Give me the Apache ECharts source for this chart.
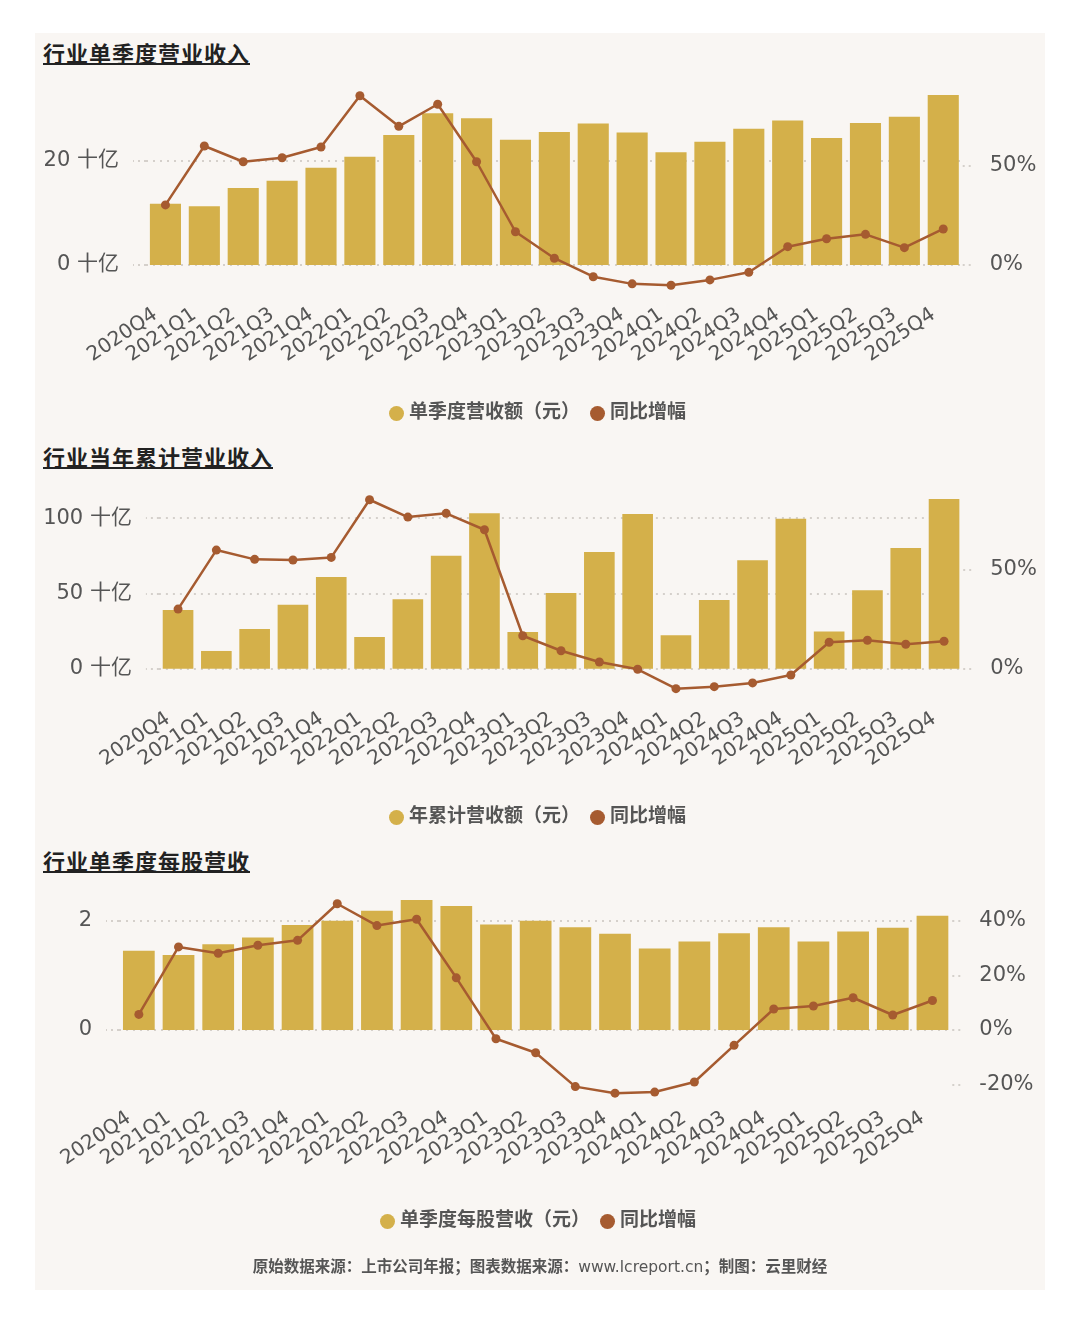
<!DOCTYPE html>
<html>
<head>
<meta charset="UTF-8">
<script src="https://cdn.jsdelivr.net/npm/echarts@6/dist/echarts.min.js"></script>
<style>
    html, body { margin: 0; padding: 0; background: #ffffff; }
    #panel { position: absolute; left: 35px; top: 33px; width: 1010px; height: 1257px; background: #f9f6f3; }
    .ttl {
        position: absolute; left: 43px;
        font-family: 'Noto Sans CJK SC', sans-serif; font-weight: bold;
        font-size: 22px; letter-spacing: 1px; line-height: 22px;
        color: #222; border-bottom: 2px solid #222;
    }
    #chart { position: absolute; left: 0; top: 0; width: 1080px; height: 1325px; }
</style>
</head>
<body>
<div id="panel"></div>
<div class="ttl" style="top:41px;">行业单季度营业收入</div>
<div class="ttl" style="top:445px;">行业当年累计营业收入</div>
<div class="ttl" style="top:849px;">行业单季度每股营收</div>
<div id="chart"></div>

<script>
    /*类目*/
    var quarters = ['2020Q4', '2021Q1', '2021Q2', '2021Q3', '2021Q4', '2022Q1', '2022Q2', '2022Q3', '2022Q4',
        '2023Q1', '2023Q2', '2023Q3', '2023Q4', '2024Q1', '2024Q2', '2024Q3', '2024Q4',
        '2025Q1', '2025Q2', '2025Q3', '2025Q4'];

    /*单季度营收额（十亿元）与同比*/
    var qRevenue = [11.8, 11.3, 14.8, 16.2, 18.7, 20.8, 25.0, 29.2, 28.2, 24.1, 25.6, 27.2, 25.5, 21.7, 23.7, 26.2, 27.8, 24.4, 27.3, 28.5, 32.7];
    var qRevYoy = [30.2, 59.8, 51.9, 53.9, 59.3, 85.1, 69.7, 80.8, 51.9, 16.7, 3.4, -5.9, -9.5, -10.2, -7.5, -3.7, 9.2, 13.2, 15.4, 8.7, 18.1];

    /*年累计营收额（十亿元）与同比*/
    var ytdRevenue = [39.0, 11.8, 26.4, 42.5, 60.9, 21.1, 46.1, 75.1, 103.3, 24.4, 50.3, 77.5, 102.8, 22.2, 45.6, 72.0, 99.7, 24.8, 52.1, 80.2, 112.8];
    var ytdYoy = [30.2, 60.1, 55.4, 55.1, 56.4, 85.6, 76.8, 78.7, 70.4, 16.7, 9.1, 3.4, -0.3, -10.1, -9.1, -7.2, -3.2, 13.4, 14.4, 12.4, 13.9];

    /*单季度每股营收（元）与同比*/
    var qEps = [1.45, 1.37, 1.57, 1.69, 1.92, 2.00, 2.18, 2.38, 2.27, 1.93, 2.00, 1.88, 1.76, 1.49, 1.62, 1.77, 1.88, 1.62, 1.80, 1.87, 2.09];
    var qEpsYoy = [5.7, 30.4, 28.1, 31.0, 32.8, 46.2, 38.2, 40.5, 19.1, -3.2, -8.3, -20.7, -23.1, -22.7, -19.0, -5.6, 7.7, 8.8, 11.8, 5.5, 10.8];

    /*刻度*/
    var qRevTicks = [0, 20];
    var qYoyTicks = [0, 50];
    var ytdTicks = [0, 50, 100];
    var ytdYoyTicks = [0, 50];
    var epsTicks = [0, 2];
    var epsYoyTicks = [-20, 0, 20, 40];

    var barColor = '#d4b04a';
    var lineColor = '#a65b30';
    var fontFam = "'DejaVu Sans', 'Noto Sans CJK SC', sans-serif";

    function xAxis(idx, margin) {
        return {
            type: 'category', gridIndex: idx, data: quarters,
            axisLine: {show: false}, axisTick: {show: false},
            axisLabel: {interval: 0, rotate: 34, fontSize: 20, color: '#555', margin: margin, padding: [0, 12, 0, 0]}
        };
    }

    function yAxis(idx, side, min, max, ticks, fmt) {
        return {
            type: 'value', gridIndex: idx, position: side, min: min, max: max,
            axisLine: {show: false},
            axisTick: {show: true, length: side === 'left' ? 13 : 10, customValues: ticks,
                lineStyle: {type: [2, 4], color: '#c9c4bf', width: 1.5}},
            axisLabel: {customValues: ticks, formatter: fmt, fontSize: 21, color: '#555', margin: 27},
            splitLine: {show: side === 'left', lineStyle: {type: [2, 5], color: '#c9c4bf', width: 1.5}}
        };
    }

    function barSeries(name, idx, data) {
        return {
            name: name, type: 'bar', xAxisIndex: idx, yAxisIndex: idx * 2, data: data,
            barCategoryGap: '20%', itemStyle: {color: barColor}
        };
    }

    function lineSeries(idx, data) {
        return {
            name: '同比增幅', type: 'line', xAxisIndex: idx, yAxisIndex: idx * 2 + 1, data: data,
            clip: false, z: 3, symbol: 'circle', symbolSize: 9,
            itemStyle: {color: lineColor}, lineStyle: {color: lineColor, width: 2.5}
        };
    }

    function legend(names, left, top) {
        return {
            data: names, left: left, top: top, padding: 0, icon: 'circle',
            itemWidth: 15, itemHeight: 15, itemGap: 10,
            textStyle: {fontSize: 19, fontWeight: 'bold', color: '#555'}
        };
    }

    var chart = echarts.init(document.getElementById('chart'));
    chart.setOption({
        animation: false,
        backgroundColor: 'transparent',
        textStyle: {fontFamily: fontFam},
        title: {
            text: '{b|原始数据来源：上市公司年报；图表数据来源：}{n|www.lcreport.cn}{b|；制图：云里财经}',
            left: 'center', top: 1260, padding: 0,
            textStyle: {
                rich: {
                    b: {fontSize: 15.5, fontWeight: 'bold', color: '#555', fontFamily: fontFam},
                    n: {fontSize: 15.5, fontWeight: 'normal', color: '#555', fontFamily: fontFam}
                }
            }
        },
        legend: [
            legend(['单季度营收额（元）', '同比增幅'], 389, 404),
            legend(['年累计营收额（元）', '同比增幅'], 389, 808),
            legend(['单季度每股营收（元）', '同比增幅'], 380, 1212)
        ],
        grid: [
            {left: 146, right: 117.3, top: 77.8, height: 218.4},
            {left: 158.9, right: 116.8, top: 488.1, height: 203.2},
            {left: 119, right: 127.7, top: 898.8, height: 185.9}
        ],
        xAxis: [xAxis(0, 10), xAxis(1, 19), xAxis(2, 25)],
        yAxis: [
            yAxis(0, 'left', -6, 36, qRevTicks, '{value} 十亿'),
            yAxis(0, 'right', -15.7, 94.1, qYoyTicks, '{value}%'),
            yAxis(1, 'left', -15, 120, ytdTicks, '{value} 十亿'),
            yAxis(1, 'right', -11.45, 91.5, ytdYoyTicks, '{value}%'),
            yAxis(2, 'left', -1, 2.4, epsTicks, '{value}'),
            yAxis(2, 'right', -20, 48, epsYoyTicks, '{value}%')
        ],
        series: [
            barSeries('单季度营收额（元）', 0, qRevenue),
            lineSeries(0, qRevYoy),
            barSeries('年累计营收额（元）', 1, ytdRevenue),
            lineSeries(1, ytdYoy),
            barSeries('单季度每股营收（元）', 2, qEps),
            lineSeries(2, qEpsYoy)
        ]
    });
</script>
</body>
</html>
